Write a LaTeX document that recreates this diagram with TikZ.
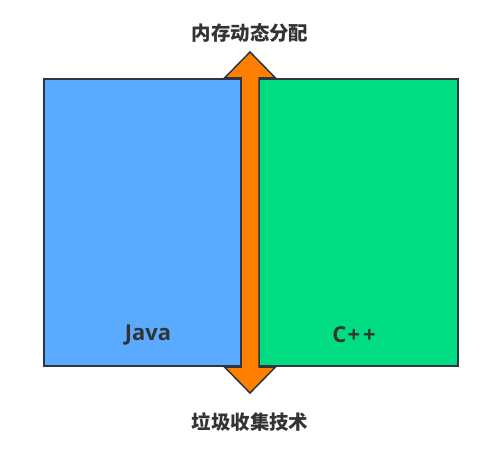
\documentclass[tikz,border=0pt]{standalone}
\usepackage{fontspec}
\setmainfont{Open Sans}
\newfontfamily\cjk{Noto Sans CJK SC}
\usepackage{tikz}

\definecolor{javablue}{HTML}{5AABFF}
\definecolor{cppgreen}{HTML}{00DC82}
\definecolor{memorange}{HTML}{FF8000}
\definecolor{textgray}{HTML}{333333}
\definecolor{edgegray}{HTML}{2E3440}

\begin{document}
\begin{tikzpicture}[x=1bp,y=-1bp,
  box/.style={draw=edgegray,line width=1.5bp},
  lang/.style={text=textgray,font=\fontsize{22}{26}\selectfont\bfseries},
  tag/.style={text=textgray,font=\cjk\fontsize{19.5}{22}\selectfont\bfseries}]
\useasboundingbox (0,0) rectangle (492,459);
\draw[box,fill=javablue] (44,79) rectangle (241,366);
\draw[box,fill=cppgreen] (259,79) rectangle (458,366);
\draw[box,fill=memorange,line join=miter] (250,52) -- (275.5,78) -- (259,78) -- (259,367)
  -- (275.5,367) -- (250,393) -- (224.5,367) -- (241,367) -- (241,78) -- (224.5,78) -- cycle;
\node[lang] (java) at (148,335) {Java};
\node[lang] (cpp) at (354,335) {C\kern1.5bp+\kern3bp+};
\node[tag] (alloc) at (250,33) {内存动态分配};
\node[tag] (gc) at (250,422) {垃圾收集技术};
\end{tikzpicture}
\end{document}
